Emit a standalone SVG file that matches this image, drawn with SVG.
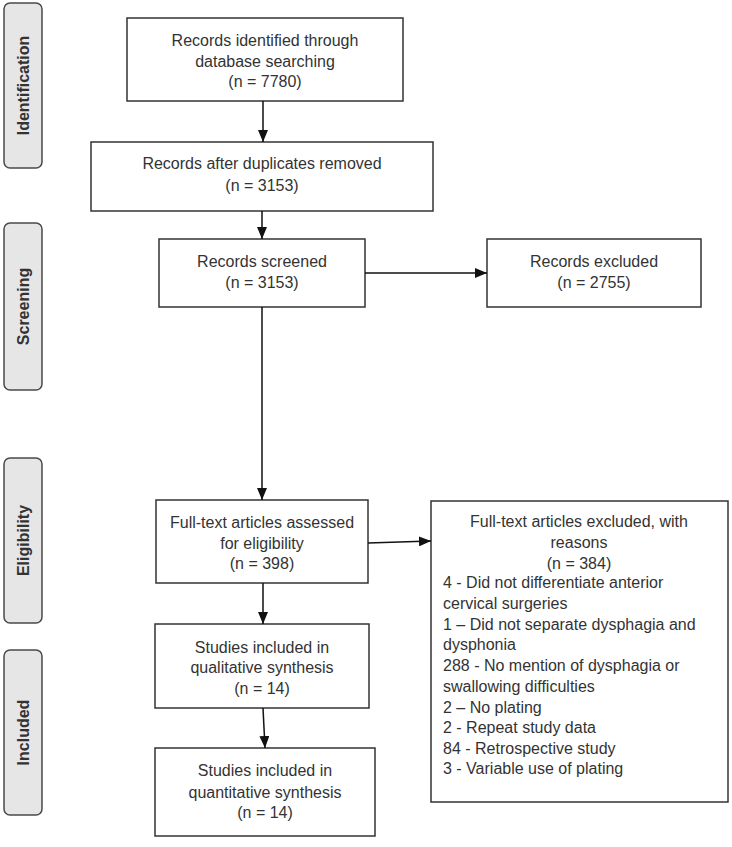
<svg xmlns="http://www.w3.org/2000/svg" width="732" height="847" viewBox="0 0 732 847">
<style>
.bg{fill:#ffffff}
.box{fill:#ffffff;stroke:#333333;stroke-width:1.5}
.side{fill:#e6e6e6;stroke:#4a4a4a;stroke-width:1.5}
.t{font-family:"Liberation Sans",Arial,sans-serif;font-size:16px;fill:#333333}
.c{text-anchor:middle}
.st{font-family:"Liberation Sans",Arial,sans-serif;font-size:16px;font-weight:bold;fill:#333333;text-anchor:middle}
.ln{stroke:#111111;stroke-width:1.5;fill:none;marker-end:url(#ah)}
</style>
<defs>
<marker id="ah" markerUnits="userSpaceOnUse" markerWidth="12" markerHeight="10" refX="12" refY="5" orient="auto">
<path d="M0,0 L12,5 L0,10 z" fill="#111111"/>
</marker>
</defs>
<rect class="bg" x="0" y="0" width="732" height="847"/>

<g id="phase-identification">
<rect class="side" x="4" y="3" width="38" height="165" rx="6"/>
<text class="st" transform="translate(29,85.5) rotate(-90)">Identification</text>
</g>
<g id="phase-screening">
<rect class="side" x="4" y="223" width="38" height="167" rx="6"/>
<text class="st" transform="translate(29,306.5) rotate(-90)">Screening</text>
</g>
<g id="phase-eligibility">
<rect class="side" x="4" y="458" width="38" height="165" rx="6"/>
<text class="st" transform="translate(29,540.5) rotate(-90)">Eligibility</text>
</g>
<g id="phase-included">
<rect class="side" x="4" y="650" width="38" height="165" rx="6"/>
<text class="st" transform="translate(29,732.5) rotate(-90)">Included</text>
</g>

<g id="records-identified">
<rect class="box" x="127" y="18" width="276" height="83"/>
<text class="t c" x="265" y="46">Records identified through</text>
<text class="t c" x="265" y="67">database searching</text>
<text class="t c" x="265" y="87">(n = 7780)</text>
</g>
<g id="after-duplicates">
<rect class="box" x="91" y="142" width="342" height="69"/>
<text class="t c" x="262" y="169">Records after duplicates removed</text>
<text class="t c" x="262" y="191">(n = 3153)</text>
</g>
<g id="records-screened">
<rect class="box" x="159" y="239" width="206" height="68"/>
<text class="t c" x="262" y="267">Records screened</text>
<text class="t c" x="262" y="288">(n = 3153)</text>
</g>
<g id="records-excluded">
<rect class="box" x="487" y="239" width="214" height="68"/>
<text class="t c" x="594" y="267">Records excluded</text>
<text class="t c" x="594" y="288">(n = 2755)</text>
</g>
<g id="fulltext-assessed">
<rect class="box" x="156" y="500" width="212" height="83"/>
<text class="t c" x="262" y="528">Full-text articles assessed</text>
<text class="t c" x="262" y="549">for eligibility</text>
<text class="t c" x="262" y="569">(n = 398)</text>
</g>
<g id="fulltext-excluded">
<rect class="box" x="431" y="501" width="297" height="301"/>
<text class="t c" x="579" y="527">Full-text articles excluded, with</text>
<text class="t c" x="579" y="548">reasons</text>
<text class="t c" x="579" y="569">(n = 384)</text>
<text class="t" x="443" y="588">4 - Did not differentiate anterior</text>
<text class="t" x="443" y="609">cervical surgeries</text>
<text class="t" x="443" y="630">1 – Did not separate dysphagia and</text>
<text class="t" x="443" y="650">dysphonia</text>
<text class="t" x="443" y="671">288 - No mention of dysphagia or</text>
<text class="t" x="443" y="692">swallowing difficulties</text>
<text class="t" x="443" y="713">2 – No plating</text>
<text class="t" x="443" y="733">2 - Repeat study data</text>
<text class="t" x="443" y="754">84 - Retrospective study</text>
<text class="t" x="443" y="774">3 - Variable use of plating</text>
</g>
<g id="qualitative">
<rect class="box" x="155" y="624" width="214" height="84"/>
<text class="t c" x="262" y="653">Studies included in</text>
<text class="t c" x="262" y="673">qualitative synthesis</text>
<text class="t c" x="262" y="694">(n = 14)</text>
</g>
<g id="quantitative">
<rect class="box" x="155" y="748" width="220" height="88"/>
<text class="t c" x="265" y="776">Studies included in</text>
<text class="t c" x="265" y="798">quantitative synthesis</text>
<text class="t c" x="265" y="818">(n = 14)</text>
</g>

<g id="connectors">
<line class="ln" x1="263" y1="101" x2="263" y2="142"/>
<line class="ln" x1="262" y1="211" x2="262" y2="239"/>
<line class="ln" x1="365" y1="273" x2="487" y2="273"/>
<line class="ln" x1="262" y1="307" x2="262" y2="500"/>
<line class="ln" x1="368" y1="543" x2="431" y2="541"/>
<line class="ln" x1="263" y1="583" x2="263" y2="624"/>
<line class="ln" x1="263" y1="708" x2="265" y2="748"/>
</g>
</svg>
